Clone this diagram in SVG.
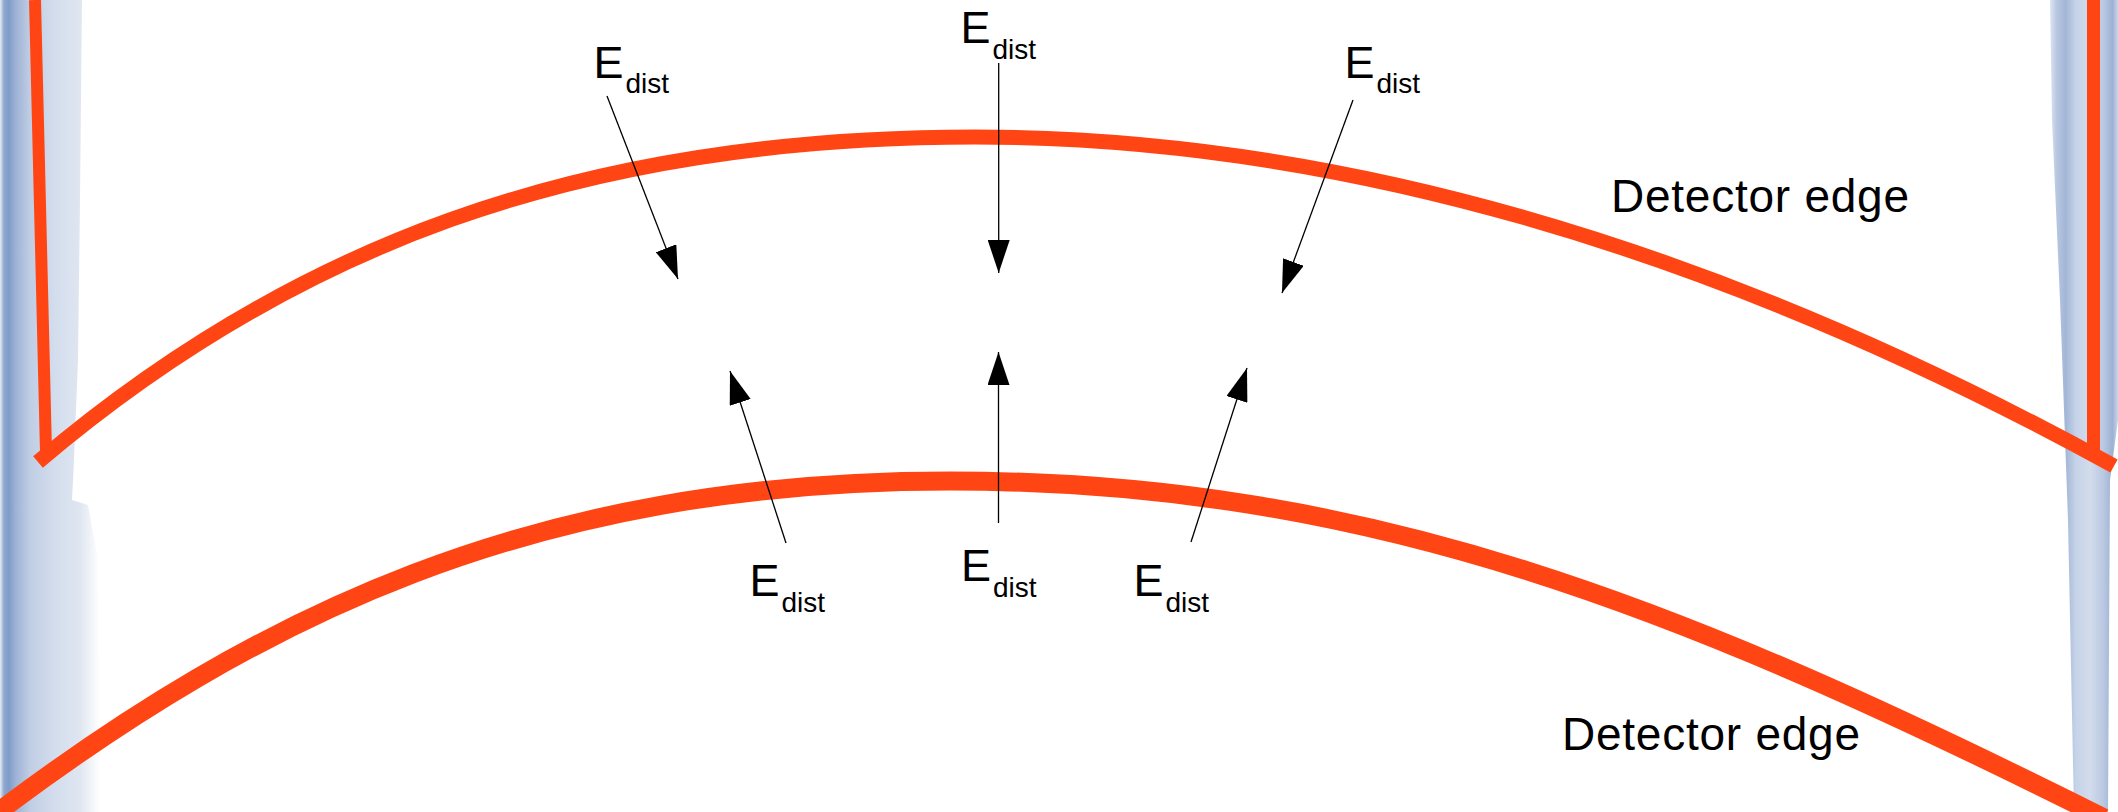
<svg xmlns="http://www.w3.org/2000/svg" width="2118" height="812" viewBox="0 0 2118 812">
  <style>
    .edge { fill: none; stroke: #ff4513; stroke-linecap: butt; stroke-linejoin: miter; }
    .lbl { font-family: "Liberation Sans", Arial, sans-serif; fill: #000; }
    .e { font-size: 45px; }
    .sub { font-size: 28px; }
    .det { font-size: 46px; }
    .arrow { fill: none; stroke: #000; stroke-width: 1.3; marker-end: url(#head); }
  </style>
  <defs>
    <marker id="head" viewBox="0 0 33 22" refX="33" refY="11" markerWidth="33" markerHeight="22" orient="auto" markerUnits="userSpaceOnUse">
      <path d="M0,0 L33,11 L0,22 z" fill="#000"/>
    </marker>
    <linearGradient id="gl" gradientUnits="userSpaceOnUse" x1="0" y1="0" x2="100" y2="0">
      <stop offset="0" stop-color="#e6ecf5"/>
      <stop offset="0.04" stop-color="#8ea8cf"/>
      <stop offset="0.09" stop-color="#7f9cc8"/>
      <stop offset="0.16" stop-color="#9fb3d6"/>
      <stop offset="0.3" stop-color="#c0cde4"/>
      <stop offset="0.55" stop-color="#d3dded"/>
      <stop offset="0.8" stop-color="#dfe6f1"/>
      <stop offset="1" stop-color="#ffffff"/>
    </linearGradient>
    <linearGradient id="gr" gradientUnits="userSpaceOnUse" x1="2048" y1="0" x2="2118" y2="0">
      <stop offset="0" stop-color="#e8eef6"/>
      <stop offset="0.12" stop-color="#b9c8e1"/>
      <stop offset="0.25" stop-color="#a3b6d7"/>
      <stop offset="0.4" stop-color="#c6d3e8"/>
      <stop offset="0.6" stop-color="#d2dcec"/>
      <stop offset="0.8" stop-color="#b8c7e0"/>
      <stop offset="0.92" stop-color="#9db1d4"/>
      <stop offset="1" stop-color="#c9d5e9"/>
    </linearGradient>
  </defs>
  <rect width="2118" height="812" fill="#ffffff"/>

  <g id="left-strip">
    <path d="M0,0 L82,0 L80,200 L78,360 L74,460 L72,500 L88,505 L98,560 L100,812 L0,812 Z" fill="url(#gl)"/>
  </g>
  <g id="right-strip">
    <path d="M2050,0 L2118,0 L2118,420 L2110,480 L2108,812 L2074,812 L2068,520 L2060,300 L2052,120 Z" fill="url(#gr)"/>
  </g>

  <g id="upper-detector-edge">
    <line class="edge" x1="35" y1="0" x2="46" y2="452" stroke-width="12"/>
    <line class="edge" x1="2093.5" y1="0" x2="2093.5" y2="452" stroke-width="13"/>
    <path class="edge" stroke-width="15" d="M38,462 C288,249.5 575,137 975,137 C1375,137 1764,273.5 2114,466"/>
  </g>

  <g id="lower-detector-edge">
    <path class="edge" stroke-width="19" d="M-2,812 C258,617 530,481 950,481 C1370,481 1684,608 2104,818"/>
  </g>

  <g id="label-upper-edge">
    <text class="lbl det" x="1611" y="212" textLength="298">Detector edge</text>
  </g>
  <g id="label-lower-edge">
    <text class="lbl det" x="1562" y="749.5" textLength="298">Detector edge</text>
  </g>

  <g id="label-edist-top-left">
    <text class="lbl e" x="593.5" y="78">E<tspan class="sub" dx="2" dy="15">dist</tspan></text>
  </g>
  <g id="label-edist-top-center">
    <text class="lbl e" x="960.5" y="43">E<tspan class="sub" dx="2" dy="16">dist</tspan></text>
  </g>
  <g id="label-edist-top-right">
    <text class="lbl e" x="1344.5" y="78">E<tspan class="sub" dx="2" dy="15">dist</tspan></text>
  </g>
  <g id="label-edist-bottom-left">
    <text class="lbl e" x="749.5" y="596">E<tspan class="sub" dx="2" dy="16">dist</tspan></text>
  </g>
  <g id="label-edist-bottom-center">
    <text class="lbl e" x="961" y="581">E<tspan class="sub" dx="2" dy="16">dist</tspan></text>
  </g>
  <g id="label-edist-bottom-right">
    <text class="lbl e" x="1133.5" y="596">E<tspan class="sub" dx="2" dy="16">dist</tspan></text>
  </g>

  <g id="connectors">
    <line class="arrow" x1="607" y1="96" x2="678" y2="279"/>
    <line class="arrow" x1="998.7" y1="63" x2="998.7" y2="273"/>
    <line class="arrow" x1="1353" y1="100" x2="1282" y2="293"/>
    <line class="arrow" x1="786" y1="543" x2="730" y2="371"/>
    <line class="arrow" x1="998.5" y1="523" x2="998.5" y2="352"/>
    <line class="arrow" x1="1191" y1="542" x2="1247" y2="368"/>
  </g>
</svg>
